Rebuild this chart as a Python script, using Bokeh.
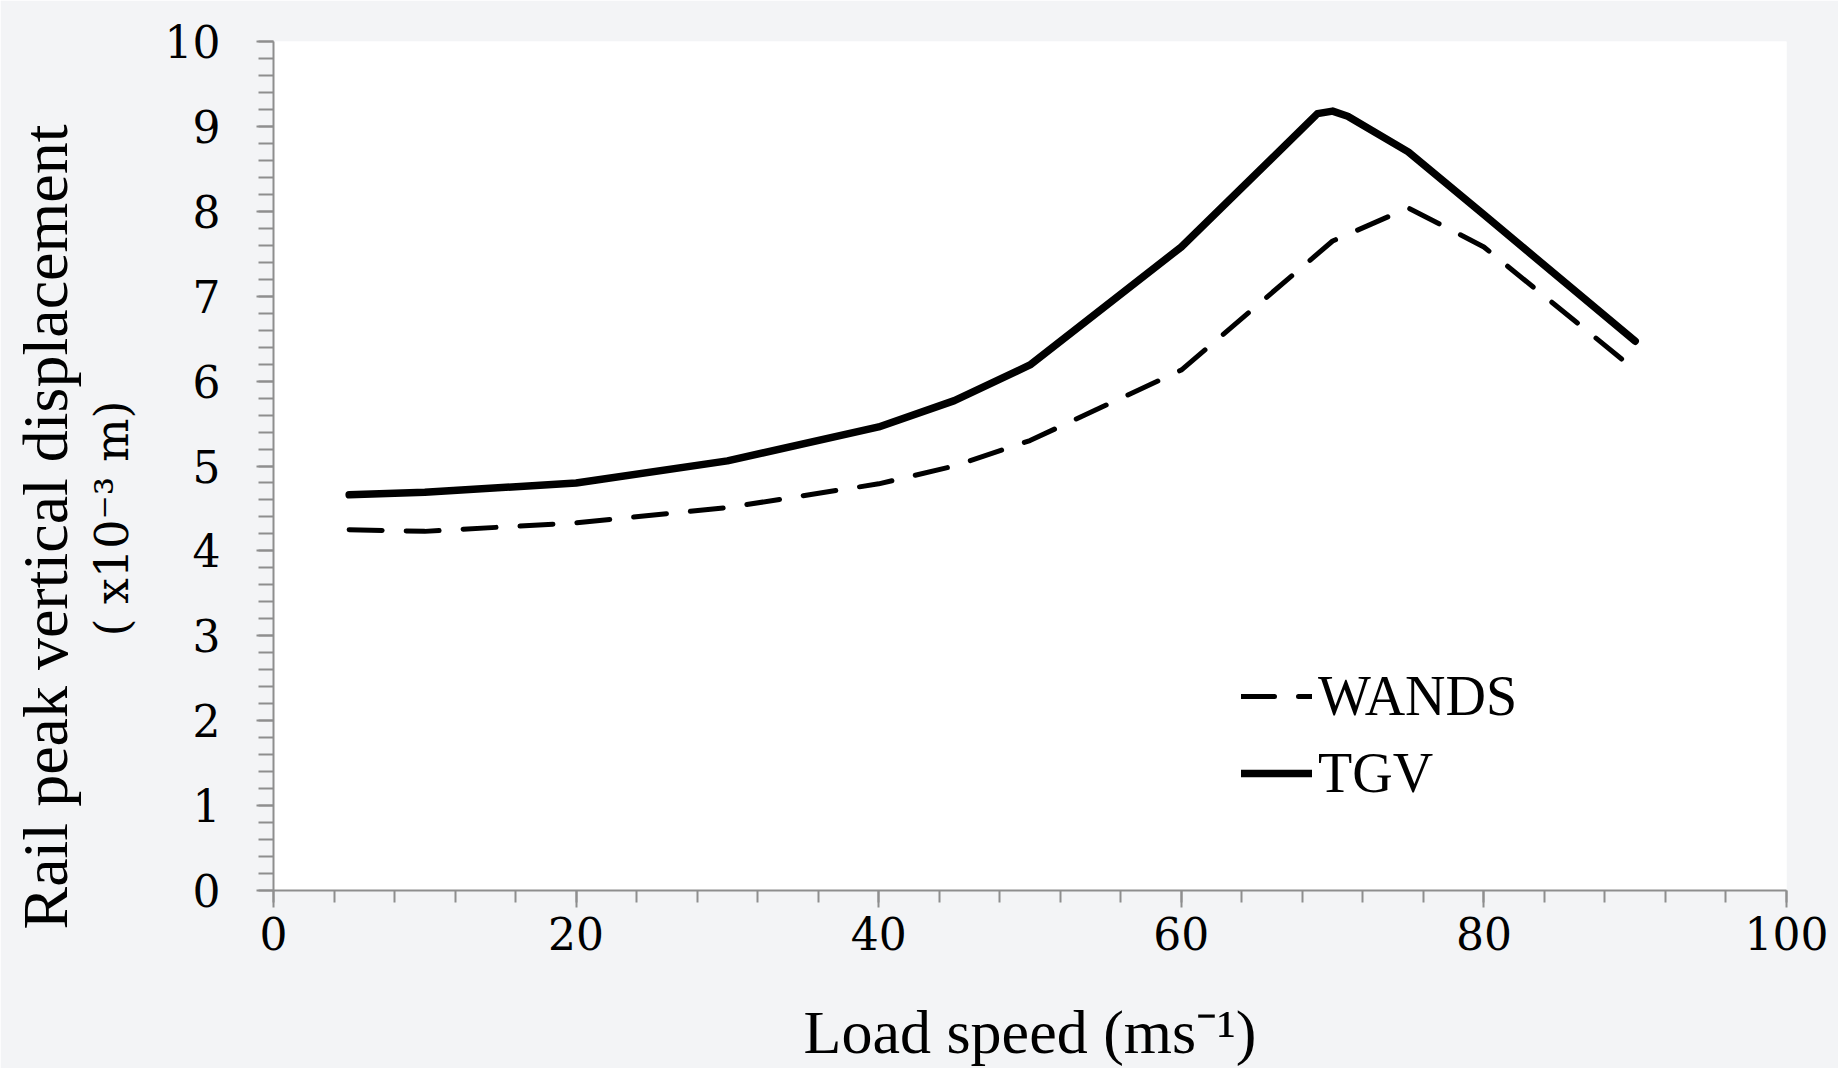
from bokeh.plotting import figure
from bokeh.models import FixedTicker, Title, Legend, LegendItem
from bokeh.embed import file_html
from bokeh.resources import INLINE

# ---- data ----
speed_tgv = [5, 10, 20, 30, 40, 45, 50, 60, 69, 70, 71, 75, 80, 90]
disp_tgv = [4.66, 4.69, 4.80, 5.06, 5.46, 5.77, 6.19, 7.58, 9.15, 9.18, 9.12, 8.70, 7.96, 6.47]

speed_wands = [5, 10, 20, 30, 40, 45, 50, 60, 70, 75, 80, 90]
disp_wands = [4.25, 4.23, 4.33, 4.51, 4.79, 5.00, 5.30, 6.13, 7.65, 8.04, 7.58, 6.13]

x_ticks = [0, 20, 40, 60, 80, 100]
y_ticks = [0, 1, 2, 3, 4, 5, 6, 7, 8, 9, 10]
series_names = ["WANDS", "TGV"]

x_title = "Load speed (ms\u207b\u00b9)"
y_title_1 = "Rail peak vertical displacement"
y_title_2 = "( x10\u207b\u00b3 m)"

AXIS_GREY = "#8e8e8e"

p = figure(width=1838, height=1068, x_range=(0, 100), y_range=(0, 10),
           output_backend="svg", toolbar_location=None,
           min_border_left=273, min_border_right=52,
           min_border_top=41, min_border_bottom=177)
p.border_fill_color = "#f3f4f6"
p.background_fill_color = "white"
p.outline_line_color = None
p.xgrid.visible = False
p.ygrid.visible = False

p.xaxis.ticker = FixedTicker(ticks=x_ticks, minor_ticks=list(range(0, 101, 4)))
p.yaxis.ticker = FixedTicker(ticks=y_ticks, minor_ticks=[i / 5 for i in range(0, 51)])

for ax in (p.xaxis[0], p.yaxis[0]):
    ax.axis_line_color = AXIS_GREY
    ax.axis_line_width = 2
    ax.major_tick_line_color = AXIS_GREY
    ax.major_tick_line_width = 2
    ax.minor_tick_line_color = AXIS_GREY
    ax.minor_tick_line_width = 2
    ax.major_tick_in = 0
    ax.minor_tick_in = 0
    ax.major_label_text_font = "DejaVu Serif"
    ax.major_label_text_font_size = "44px"
    ax.major_label_text_color = "black"

p.xaxis.major_tick_out = 17
p.xaxis.minor_tick_out = 12
p.xaxis.major_label_standoff = 9
p.xaxis.axis_label = x_title
p.xaxis.axis_label_text_font = "Liberation Serif"
p.xaxis.axis_label_text_font_size = "62px"
p.xaxis.axis_label_text_font_style = "normal"
p.xaxis.axis_label_text_color = "black"
p.xaxis.axis_label_standoff = 45

p.yaxis.major_tick_out = 17
p.yaxis.minor_tick_out = 15
p.yaxis.major_label_standoff = 36

r_w = p.line(speed_wands, disp_wands, line_color="black", line_width=5,
             line_dash="33 24", line_cap="round", line_join="round")
r_t = p.line(speed_tgv, disp_tgv, line_color="black", line_width=7.5,
             line_cap="round", line_join="round")

legend = Legend(items=[LegendItem(label=series_names[0], renderers=[r_w]),
                       LegendItem(label=series_names[1], renderers=[r_t])],
                location=(968, 84), orientation="vertical",
                glyph_width=71, glyph_height=66, label_height=66,
                spacing=11, padding=0, margin=0, label_standoff=6,
                border_line_color=None, background_fill_alpha=0,
                label_text_font="Liberation Serif", label_text_font_size="56px",
                label_text_color="black")
p.add_layout(legend)

t2 = Title(text=y_title_2, align="left", offset=254, standoff=45,
           text_font="DejaVu Serif", text_font_size="46px",
           text_font_style="normal", text_color="black")
p.add_layout(t2, "left")
t1 = Title(text=y_title_1, align="left", offset=-39, standoff=-41,
           text_font="Liberation Serif", text_font_size="64px",
           text_font_style="normal", text_color="black")
p.add_layout(t1, "left")

open("out.html", "w").write(file_html(p, INLINE))
